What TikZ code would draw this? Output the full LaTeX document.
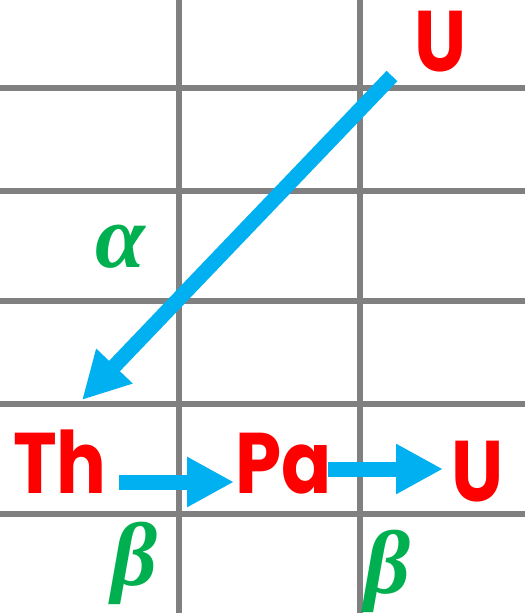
\documentclass[tikz,border=0pt]{standalone}
\usepackage{fontspec}
\usetikzlibrary{arrows.meta}
\newfontfamily\elemfont{Poppins}
\newfontfamily\greekfont{Liberation Serif}
\definecolor{elred}{HTML}{FF0000}
\definecolor{grgreen}{HTML}{00B050}
\definecolor{arblue}{HTML}{00B0F0}
\definecolor{gridgray}{HTML}{808080}
\newcommand{\narrow}[1]{\scalebox{0.86}[1]{#1}}
\begin{document}
\begin{tikzpicture}[x=1pt,y=-1pt,
  gridline/.style={draw=gridgray,line width=6pt},
  elem/.style={text=elred,font=\elemfont\bfseries\fontsize{86}{86}\selectfont,inner sep=0pt,anchor=base},
  greek/.style={text=grgreen,font=\greekfont\bfseries\itshape\fontsize{90}{90}\selectfont,inner sep=0pt},
  decay/.style={draw=arblue,line width=15pt,-{Triangle[length=47pt,width=47pt]}}]
\useasboundingbox (0,0) rectangle (525,613);
% grid
\foreach \gx in {179,360} \draw[gridline] (\gx,0) -- (\gx,613);
\foreach \gy in {88,191,301,404,514} \draw[gridline] (0,\gy) -- (525,\gy);
% elements
\node[elem] (U1) at (441,71) {\narrow{U}};
\node[elem] (Th) at (60,493) {\narrow{Th}};
\node[elem] (Pa) at (284,493) {\narrow{Pa}};
\node[elem] (U2) at (478,501) {\narrow{U}};
% arrow end points
\coordinate (a1s) at (392,76);
\coordinate (a1e) at (82,400);
\coordinate (a2s) at (119,482);
\coordinate (a2e) at (234,482);
\coordinate (a3s) at (328,469);
\coordinate (a3e) at (443,469);
\draw[decay] (a1s) -- (a1e);
\draw[decay] (a2s) -- (a2e);
\draw[decay] (a3s) -- (a3e);
% greek labels
\node[greek] (alpha) at (120,247) {α};
\node[greek] (beta1) at (135,563) {β};
\node[greek] (beta2) at (388,571) {β};
\end{tikzpicture}
\end{document}
